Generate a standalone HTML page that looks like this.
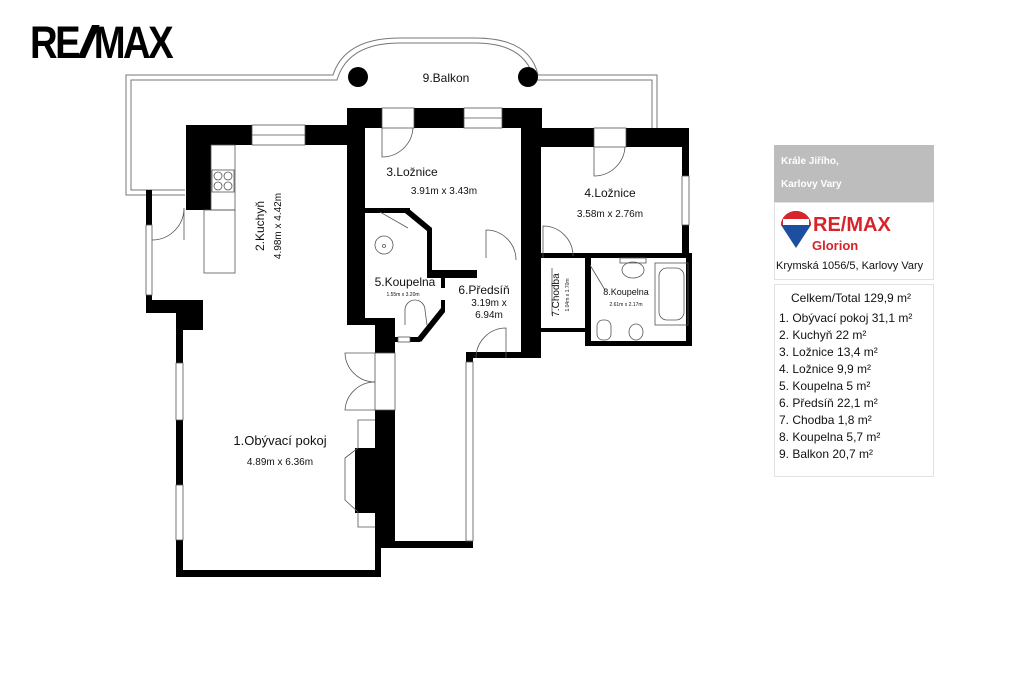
<!DOCTYPE html>
<html><head><meta charset="utf-8"><style>
html,body{margin:0;padding:0;background:#fff;}
body{width:1024px;height:682px;overflow:hidden;position:relative;font-family:"Liberation Sans",sans-serif;}
svg{position:absolute;left:0;top:0}
.t{font-family:"Liberation Sans",sans-serif;fill:#111}
</style></head><body>
<svg width="1024" height="682" viewBox="0 0 1024 682">
<!-- REMAX logo -->
<g transform="translate(30,0) scale(0.85,1)">
<text x="0" y="58" font-size="45" style="font-weight:bold;font-family:'Liberation Sans',sans-serif" fill="#000" letter-spacing="-3">RE</text>
<polygon points="56,58 65,58 82,25 73,25" fill="#000"/>
<text x="75" y="58" font-size="45" style="font-weight:bold;font-family:'Liberation Sans',sans-serif" fill="#000" letter-spacing="-3">MAX</text>
</g>

<!-- balcony outline -->
<g fill="none" stroke="#777" stroke-width="1">
<path d="M185,195 L126,195 L126,75 L333,75 Q345,38 400,38 L475,38 Q530,38 538,75 L657,75 L657,140"/>
<path d="M185,190 L131,190 L131,80 L337,80 Q348,43 400,43 L475,43 Q526,43 534,80 L652,80 L652,140"/>
</g>
<circle cx="358" cy="77" r="10" fill="#000"/>
<circle cx="528" cy="77" r="10" fill="#000"/>
<text x="446" y="82" font-size="12" class="t" text-anchor="middle">9.Balkon</text>

<g fill="#000">
<rect x="186" y="125" width="25" height="85"/>
<rect x="186" y="125" width="66" height="20"/>
<rect x="305" y="125" width="45" height="20"/>
<rect x="146" y="190" width="6" height="35"/>
<rect x="146" y="295" width="6" height="18"/>
<rect x="146" y="300" width="57" height="13"/>
<rect x="176" y="300" width="27" height="30"/>
<rect x="176" y="313" width="7" height="50"/>
<rect x="176" y="420" width="7" height="65"/>
<rect x="176" y="540" width="7" height="37"/>
<rect x="176" y="570" width="205" height="7"/>
<rect x="375" y="323" width="20" height="30"/>
<rect x="375" y="410" width="20" height="138"/>
<rect x="375" y="540" width="6" height="37"/>
<rect x="381" y="541" width="92" height="7"/>
<rect x="355" y="448" width="20" height="65"/>
<rect x="347" y="108" width="195" height="20"/>
<rect x="347" y="108" width="18" height="217"/>
<rect x="347" y="318" width="48" height="7"/>
<rect x="521" y="108" width="20" height="185"/>
<rect x="521" y="290" width="20" height="68"/>
<rect x="466" y="352" width="75" height="6"/>
<rect x="466" y="352" width="7" height="10"/>
<rect x="541" y="128" width="148" height="19"/>
<rect x="682" y="128" width="7" height="48"/>
<rect x="682" y="225" width="7" height="30"/>
<rect x="541" y="253" width="150" height="5"/>
<rect x="585" y="253" width="6" height="93"/>
<rect x="686" y="253" width="6" height="93"/>
<rect x="585" y="341" width="107" height="5"/>
<rect x="541" y="328" width="44" height="4"/>
<rect x="365" y="208" width="45" height="5"/>
<polygon points="408,208 432,228 432,274 427,274 427,231 405,213"/>
<rect x="427" y="270" width="50" height="8"/>
<rect x="441" y="278" width="4" height="10"/>
<rect x="441" y="300" width="4" height="12"/>
<polygon points="441,308 445,312 421,342 417,338"/>
<rect x="395" y="337" width="25" height="5"/>
</g>
<g fill="#fff">
<rect x="382" y="108" width="32" height="20"/>
<rect x="464" y="108" width="38" height="20"/>
<rect x="594" y="128" width="32" height="19"/>
</g>
<g fill="none" stroke="#555" stroke-width="0.8">
<rect x="252" y="125" width="53" height="20"/><line x1="252" y1="135" x2="305" y2="135"/>
<rect x="464" y="108" width="38" height="20"/><line x1="464" y1="118" x2="502" y2="118"/>
<rect x="382" y="108" width="32" height="20"/>
<rect x="594" y="128" width="32" height="19"/>
<rect x="146" y="225" width="6" height="70"/>
<rect x="176" y="363" width="7" height="57"/><rect x="176" y="485" width="7" height="55"/>
<rect x="682" y="176" width="7" height="49"/>
<rect x="466" y="362" width="7" height="179"/>
<rect x="375" y="353" width="20" height="57"/>
<path d="M382,128 L382,157 A31,31 0 0 0 413,128"/>
<path d="M594,147 L594,176 A31,31 0 0 0 625,147"/>
<path d="M152,240 A32,32 0 0 0 184,208 L184,240"/>
<path d="M486,258 L486,230 A30,30 0 0 1 516,260"/>
<path d="M543,258 L543,226 A30,30 0 0 1 573,256"/>
<path d="M476,358 A30,30 0 0 1 506,328 L506,358"/>
<path d="M375,353 L345,353 A30,30 0 0 0 375,382"/>
<path d="M375,410 L345,410 A30,30 0 0 1 375,382"/>
<rect x="211" y="145" width="24" height="65"/>
<rect x="204" y="210" width="31" height="63"/>
<rect x="212" y="170" width="22" height="22"/>
<circle cx="218" cy="176" r="4"/><circle cx="228" cy="176" r="4"/><circle cx="218" cy="186" r="4"/><circle cx="228" cy="186" r="4"/>
<polyline points="375,420 358,420 358,448 345,458 345,500 358,512 358,527 375,527"/>
<rect x="655" y="263" width="33" height="62"/><rect x="659" y="268" width="25" height="52" rx="8"/>
<ellipse cx="633" cy="270" rx="11" ry="8"/><rect x="620" y="258" width="26" height="5"/>
<ellipse cx="636" cy="332" rx="7" ry="8"/>
<rect x="597" y="320" width="14" height="20" rx="6"/>
<line x1="590" y1="265" x2="605" y2="290"/>
<line x1="552" y1="268" x2="552" y2="315"/>
<circle cx="384" cy="245" r="9"/><circle cx="384" cy="246" r="1.5"/>
<path d="M405,325 L405,310 A10,10 0 0 1 425,310 L427,325"/>
<line x1="380" y1="212" x2="408" y2="228"/>
<rect x="398" y="337" width="12" height="5" fill="#fff"/>
</g>
<g class="t">
<text x="412" y="176" font-size="12" text-anchor="middle">3.Ložnice</text>
<text x="444" y="194" font-size="10" text-anchor="middle">3.91m x 3.43m</text>
<text x="610" y="197" font-size="12" text-anchor="middle">4.Ložnice</text>
<text x="610" y="217" font-size="10" text-anchor="middle">3.58m x 2.76m</text>
<text transform="translate(264,226) rotate(-90)" font-size="12" text-anchor="middle">2.Kuchyň</text>
<text transform="translate(281,226) rotate(-90)" font-size="10" text-anchor="middle">4.98m x 4.42m</text>
<text x="405" y="286" font-size="12" text-anchor="middle">5.Koupelna</text>
<text x="403" y="296" font-size="5" text-anchor="middle">1.55m x 3.20m</text>
<text x="484" y="294" font-size="12" text-anchor="middle">6.Předsíň</text>
<text x="489" y="306" font-size="10" text-anchor="middle">3.19m x</text>
<text x="489" y="318" font-size="10" text-anchor="middle">6.94m</text>
<text transform="translate(559,295) rotate(-90)" font-size="10" text-anchor="middle">7.Chodba</text>
<text transform="translate(569,295) rotate(-90)" font-size="5" text-anchor="middle">1.04m x 1.70m</text>
<text x="626" y="295" font-size="9" text-anchor="middle">8.Koupelna</text>
<text x="626" y="306" font-size="5" text-anchor="middle">2.61m x 2.17m</text>
<text x="280" y="445" font-size="13" text-anchor="middle">1.Obývací pokoj</text>
<text x="280" y="465" font-size="10" text-anchor="middle">4.89m x 6.36m</text>
</g>

<rect x="774" y="145" width="160" height="57" fill="#bdbdbd"/>
<text x="781" y="164" font-size="10" font-weight="bold" class="t" style="fill:#fff">Krále Jiřího,</text>
<text x="781" y="187" font-size="10" font-weight="bold" style="fill:#fff" class="t">Karlovy Vary</text>
<rect x="774.5" y="202.5" width="159" height="77" fill="none" stroke="#e2e2e2"/>
<path d="M781,225 A15,14 0 0 1 811,225 L796,248 Z" fill="#1c4fa0"/>
<path d="M781,225 A15,14 0 0 1 811,225 L781,225 Z" fill="#d8232a"/>
<rect x="783" y="219" width="26" height="6" fill="#fff"/>
<text x="813" y="231" font-size="20" font-weight="bold" class="t" style="fill:#d8232a">RE/MAX</text>
<text x="812" y="250" font-size="13" font-weight="bold" class="t" style="fill:#d8232a">Glorion</text>
<text x="776" y="269" font-size="11" class="t">Krymská 1056/5, Karlovy Vary</text>
<rect x="774.5" y="284.5" width="159" height="192" fill="none" stroke="#e2e2e2"/>
<g class="t" font-size="12">
<text x="791" y="302">Celkem/Total  129,9  m²</text>
<text x="779" y="322">1.  Obývací pokoj 31,1 m²</text>
<text x="779" y="339">2.  Kuchyň 22 m²</text>
<text x="779" y="356">3.  Ložnice 13,4 m²</text>
<text x="779" y="373">4.  Ložnice 9,9 m²</text>
<text x="779" y="390">5.  Koupelna 5 m²</text>
<text x="779" y="407">6.  Předsíň 22,1 m²</text>
<text x="779" y="424">7.  Chodba 1,8 m²</text>
<text x="779" y="441">8.  Koupelna 5,7 m²</text>
<text x="779" y="458">9.  Balkon 20,7 m²</text>
</g>
</svg>
</body></html>
